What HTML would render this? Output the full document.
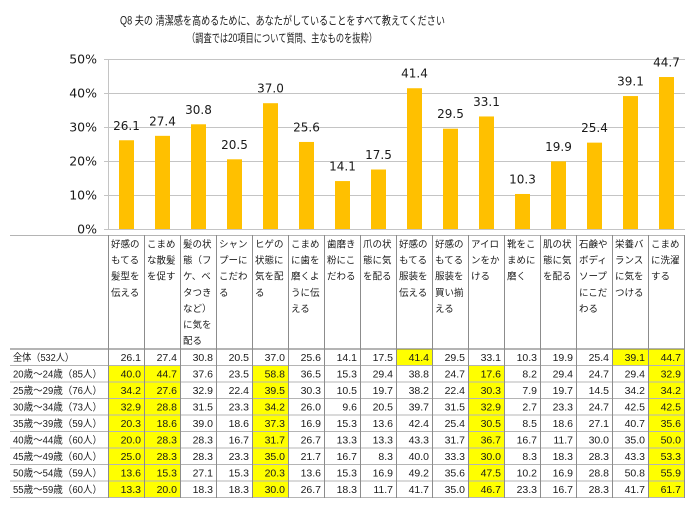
<!DOCTYPE html>
<html><head><meta charset="utf-8">
<style>
html,body{margin:0;padding:0;background:#fff;width:700px;height:508px;overflow:hidden}
svg{display:block}
.jp{font-family:"Liberation Sans","Noto Sans CJK JP",sans-serif;fill:#1a1a1a}
.num{font-family:"Liberation Sans",sans-serif;font-size:10.5px;fill:#1a1a1a}
.bl{font-family:"DejaVu Sans",sans-serif;font-size:12px;fill:#1a1a1a}
.ax{font-family:"DejaVu Sans",sans-serif;font-size:12.5px;fill:#1a1a1a}
</style></head>
<body>
<svg width="700" height="508" viewBox="0 0 700 508" xmlns="http://www.w3.org/2000/svg">
<rect width="700" height="508" fill="#fff"/>
<!-- titles -->
<text class="jp" x="120" y="24.5" font-size="11.5" textLength="325" lengthAdjust="spacingAndGlyphs">Q8 夫の 清潔感を高めるために、あなたがしていることをすべて教えてください</text>
<text class="jp" x="187" y="42" font-size="11.5" textLength="190" lengthAdjust="spacingAndGlyphs">（調査では20項目について質問、主なものを抜粋）</text>

<!-- gridlines -->
<g stroke="#c4c4c4" stroke-width="1">
<line x1="104" y1="59.5" x2="685" y2="59.5"/>
<line x1="104" y1="93.5" x2="685" y2="93.5"/>
<line x1="104" y1="127.5" x2="685" y2="127.5"/>
<line x1="104" y1="161.5" x2="685" y2="161.5"/>
<line x1="104" y1="195.5" x2="685" y2="195.5"/>
<line x1="104" y1="229.5" x2="685" y2="229.5"/>
<line x1="108.5" y1="59" x2="108.5" y2="230"/>
</g>
<!-- axis labels -->
<g class="ax" text-anchor="end">
<text x="97" y="63.5">50%</text>
<text x="97" y="97.5">40%</text>
<text x="97" y="131.5">30%</text>
<text x="97" y="165.5">20%</text>
<text x="97" y="199.5">10%</text>
<text x="97" y="233.5">0%</text>
</g>
<!-- bars -->
<g fill="#FFC000">
<rect x="119" y="140.26" width="15" height="88.74"/>
<rect x="155" y="135.84" width="15" height="93.16"/>
<rect x="191" y="124.28" width="15" height="104.72"/>
<rect x="227" y="159.3" width="15" height="69.7"/>
<rect x="263" y="103.2" width="15" height="125.8"/>
<rect x="299" y="141.96" width="15" height="87.04"/>
<rect x="335" y="181.06" width="15" height="47.94"/>
<rect x="371" y="169.5" width="15" height="59.5"/>
<rect x="407" y="88.24" width="15" height="140.76"/>
<rect x="443" y="128.7" width="15" height="100.3"/>
<rect x="479" y="116.46" width="15" height="112.54"/>
<rect x="515" y="193.98" width="15" height="35.02"/>
<rect x="551" y="161.34" width="15" height="67.66"/>
<rect x="587" y="142.64" width="15" height="86.36"/>
<rect x="623" y="96.06" width="15" height="132.94"/>
<rect x="659" y="77.02" width="15" height="151.98"/>
</g>
<g class="bl" text-anchor="middle">
<text x="126.5" y="129.8">26.1</text>
<text x="162.5" y="125.3">27.4</text>
<text x="198.5" y="113.8">30.8</text>
<text x="234.5" y="148.8">20.5</text>
<text x="270.5" y="92.7">37.0</text>
<text x="306.5" y="131.5">25.6</text>
<text x="342.5" y="170.6">14.1</text>
<text x="378.5" y="159.0">17.5</text>
<text x="414.5" y="77.7">41.4</text>
<text x="450.5" y="118.2">29.5</text>
<text x="486.5" y="106.0">33.1</text>
<text x="522.5" y="183.5">10.3</text>
<text x="558.5" y="150.8">19.9</text>
<text x="594.5" y="132.1">25.4</text>
<text x="630.5" y="85.6">39.1</text>
<text x="666.5" y="66.5">44.7</text>
</g>

<!-- table yellow cells -->
<g fill="#FFFF00">
<rect x="396" y="349" width="36" height="16.5"/>
<rect x="612" y="349" width="36" height="16.5"/>
<rect x="648" y="349" width="36" height="148.5"/>
<rect x="108" y="365.5" width="36" height="132"/>
<rect x="144" y="365.5" width="36" height="132"/>
<rect x="252" y="365.5" width="36" height="132"/>
<rect x="468" y="365.5" width="36" height="132"/>
</g>

<!-- table horizontal lines -->
<g stroke="#b4b4b4" stroke-width="1">
<line x1="10" y1="235.5" x2="685" y2="235.5"/>
<line x1="10" y1="365.5" x2="685" y2="365.5"/>
<line x1="10" y1="382" x2="685" y2="382"/>
<line x1="10" y1="398.5" x2="685" y2="398.5"/>
<line x1="10" y1="415" x2="685" y2="415"/>
<line x1="10" y1="431.5" x2="685" y2="431.5"/>
<line x1="10" y1="448" x2="685" y2="448"/>
<line x1="10" y1="464.5" x2="685" y2="464.5"/>
<line x1="10" y1="481" x2="685" y2="481"/>
<line x1="10" y1="497.5" x2="685" y2="497.5"/>
</g>
<line x1="10" y1="349" x2="685" y2="349" stroke="#6a6a6a" stroke-width="1"/>
<!-- table vertical lines -->
<g stroke="#8c8c8c" stroke-width="1">
<line x1="108.5" y1="235" x2="108.5" y2="498"/>
<line x1="144.5" y1="235" x2="144.5" y2="498"/>
<line x1="180.5" y1="235" x2="180.5" y2="498"/>
<line x1="216.5" y1="235" x2="216.5" y2="498"/>
<line x1="252.5" y1="235" x2="252.5" y2="498"/>
<line x1="288.5" y1="235" x2="288.5" y2="498"/>
<line x1="324.5" y1="235" x2="324.5" y2="498"/>
<line x1="360.5" y1="235" x2="360.5" y2="498"/>
<line x1="396.5" y1="235" x2="396.5" y2="498"/>
<line x1="432.5" y1="235" x2="432.5" y2="498"/>
<line x1="468.5" y1="235" x2="468.5" y2="498"/>
<line x1="504.5" y1="235" x2="504.5" y2="498"/>
<line x1="540.5" y1="235" x2="540.5" y2="498"/>
<line x1="576.5" y1="235" x2="576.5" y2="498"/>
<line x1="612.5" y1="235" x2="612.5" y2="498"/>
<line x1="648.5" y1="235" x2="648.5" y2="498"/>
<line x1="684.5" y1="235" x2="684.5" y2="498"/>
</g>

<!-- header texts -->
<g class="jp" font-size="9.5">
<text y="247.5"><tspan x="111">好感の</tspan><tspan x="111" dy="16.1">もてる</tspan><tspan x="111" dy="16.1">髪型を</tspan><tspan x="111" dy="16.1">伝える</tspan></text>
<text y="247.5"><tspan x="147">こまめ</tspan><tspan x="147" dy="16.1">な散髪</tspan><tspan x="147" dy="16.1">を促す</tspan></text>
<text y="247.5"><tspan x="183">髪の状</tspan><tspan x="183" dy="16.1">態（フ</tspan><tspan x="183" dy="16.1">ケ、ベ</tspan><tspan x="183" dy="16.1">タつき</tspan><tspan x="183" dy="16.1">など）</tspan><tspan x="183" dy="16.1">に気を</tspan><tspan x="183" dy="16.1">配る</tspan></text>
<text y="247.5"><tspan x="219">シャン</tspan><tspan x="219" dy="16.1">プーに</tspan><tspan x="219" dy="16.1">こだわ</tspan><tspan x="219" dy="16.1">る</tspan></text>
<text y="247.5"><tspan x="255">ヒゲの</tspan><tspan x="255" dy="16.1">状態に</tspan><tspan x="255" dy="16.1">気を配</tspan><tspan x="255" dy="16.1">る</tspan></text>
<text y="247.5"><tspan x="291">こまめ</tspan><tspan x="291" dy="16.1">に歯を</tspan><tspan x="291" dy="16.1">磨くよ</tspan><tspan x="291" dy="16.1">うに伝</tspan><tspan x="291" dy="16.1">える</tspan></text>
<text y="247.5"><tspan x="327">歯磨き</tspan><tspan x="327" dy="16.1">粉にこ</tspan><tspan x="327" dy="16.1">だわる</tspan></text>
<text y="247.5"><tspan x="363">爪の状</tspan><tspan x="363" dy="16.1">態に気</tspan><tspan x="363" dy="16.1">を配る</tspan></text>
<text y="247.5"><tspan x="399">好感の</tspan><tspan x="399" dy="16.1">もてる</tspan><tspan x="399" dy="16.1">服装を</tspan><tspan x="399" dy="16.1">伝える</tspan></text>
<text y="247.5"><tspan x="435">好感の</tspan><tspan x="435" dy="16.1">もてる</tspan><tspan x="435" dy="16.1">服装を</tspan><tspan x="435" dy="16.1">買い揃</tspan><tspan x="435" dy="16.1">える</tspan></text>
<text y="247.5"><tspan x="471">アイロ</tspan><tspan x="471" dy="16.1">ンをか</tspan><tspan x="471" dy="16.1">ける</tspan></text>
<text y="247.5"><tspan x="507">靴をこ</tspan><tspan x="507" dy="16.1">まめに</tspan><tspan x="507" dy="16.1">磨く</tspan></text>
<text y="247.5"><tspan x="543">肌の状</tspan><tspan x="543" dy="16.1">態に気</tspan><tspan x="543" dy="16.1">を配る</tspan></text>
<text y="247.5"><tspan x="579">石鹸や</tspan><tspan x="579" dy="16.1">ボディ</tspan><tspan x="579" dy="16.1">ソープ</tspan><tspan x="579" dy="16.1">にこだ</tspan><tspan x="579" dy="16.1">わる</tspan></text>
<text y="247.5"><tspan x="615">栄養バ</tspan><tspan x="615" dy="16.1">ランス</tspan><tspan x="615" dy="16.1">に気を</tspan><tspan x="615" dy="16.1">つける</tspan></text>
<text y="247.5"><tspan x="651">こまめ</tspan><tspan x="651" dy="16.1">に洗濯</tspan><tspan x="651" dy="16.1">する</tspan></text>
</g>

<!-- row labels -->
<g class="jp" font-size="10">
<text x="13" y="361" textLength="61" lengthAdjust="spacingAndGlyphs">全体（532人）</text>
<text x="13" y="377.5" textLength="89" lengthAdjust="spacingAndGlyphs">20歳～24歳（85人）</text>
<text x="13" y="394" textLength="89" lengthAdjust="spacingAndGlyphs">25歳～29歳（76人）</text>
<text x="13" y="410.5" textLength="89" lengthAdjust="spacingAndGlyphs">30歳～34歳（73人）</text>
<text x="13" y="427" textLength="89" lengthAdjust="spacingAndGlyphs">35歳～39歳（59人）</text>
<text x="13" y="443.5" textLength="89" lengthAdjust="spacingAndGlyphs">40歳～44歳（60人）</text>
<text x="13" y="460" textLength="89" lengthAdjust="spacingAndGlyphs">45歳～49歳（60人）</text>
<text x="13" y="476.5" textLength="89" lengthAdjust="spacingAndGlyphs">50歳～54歳（59人）</text>
<text x="13" y="493" textLength="89" lengthAdjust="spacingAndGlyphs">55歳～59歳（60人）</text>
</g>

<!-- numbers -->
<g class="num" text-anchor="end">
<text y="361"><tspan x="141">26.1</tspan><tspan x="177">27.4</tspan><tspan x="213">30.8</tspan><tspan x="249">20.5</tspan><tspan x="285">37.0</tspan><tspan x="321">25.6</tspan><tspan x="357">14.1</tspan><tspan x="393">17.5</tspan><tspan x="429">41.4</tspan><tspan x="465">29.5</tspan><tspan x="501">33.1</tspan><tspan x="537">10.3</tspan><tspan x="573">19.9</tspan><tspan x="609">25.4</tspan><tspan x="645">39.1</tspan><tspan x="681">44.7</tspan></text>
<text y="377.5"><tspan x="141">40.0</tspan><tspan x="177">44.7</tspan><tspan x="213">37.6</tspan><tspan x="249">23.5</tspan><tspan x="285">58.8</tspan><tspan x="321">36.5</tspan><tspan x="357">15.3</tspan><tspan x="393">29.4</tspan><tspan x="429">38.8</tspan><tspan x="465">24.7</tspan><tspan x="501">17.6</tspan><tspan x="537">8.2</tspan><tspan x="573">29.4</tspan><tspan x="609">24.7</tspan><tspan x="645">29.4</tspan><tspan x="681">32.9</tspan></text>
<text y="394"><tspan x="141">34.2</tspan><tspan x="177">27.6</tspan><tspan x="213">32.9</tspan><tspan x="249">22.4</tspan><tspan x="285">39.5</tspan><tspan x="321">30.3</tspan><tspan x="357">10.5</tspan><tspan x="393">19.7</tspan><tspan x="429">38.2</tspan><tspan x="465">22.4</tspan><tspan x="501">30.3</tspan><tspan x="537">7.9</tspan><tspan x="573">19.7</tspan><tspan x="609">14.5</tspan><tspan x="645">34.2</tspan><tspan x="681">34.2</tspan></text>
<text y="410.5"><tspan x="141">32.9</tspan><tspan x="177">28.8</tspan><tspan x="213">31.5</tspan><tspan x="249">23.3</tspan><tspan x="285">34.2</tspan><tspan x="321">26.0</tspan><tspan x="357">9.6</tspan><tspan x="393">20.5</tspan><tspan x="429">39.7</tspan><tspan x="465">31.5</tspan><tspan x="501">32.9</tspan><tspan x="537">2.7</tspan><tspan x="573">23.3</tspan><tspan x="609">24.7</tspan><tspan x="645">42.5</tspan><tspan x="681">42.5</tspan></text>
<text y="427"><tspan x="141">20.3</tspan><tspan x="177">18.6</tspan><tspan x="213">39.0</tspan><tspan x="249">18.6</tspan><tspan x="285">37.3</tspan><tspan x="321">16.9</tspan><tspan x="357">15.3</tspan><tspan x="393">13.6</tspan><tspan x="429">42.4</tspan><tspan x="465">25.4</tspan><tspan x="501">30.5</tspan><tspan x="537">8.5</tspan><tspan x="573">18.6</tspan><tspan x="609">27.1</tspan><tspan x="645">40.7</tspan><tspan x="681">35.6</tspan></text>
<text y="443.5"><tspan x="141">20.0</tspan><tspan x="177">28.3</tspan><tspan x="213">28.3</tspan><tspan x="249">16.7</tspan><tspan x="285">31.7</tspan><tspan x="321">26.7</tspan><tspan x="357">13.3</tspan><tspan x="393">13.3</tspan><tspan x="429">43.3</tspan><tspan x="465">31.7</tspan><tspan x="501">36.7</tspan><tspan x="537">16.7</tspan><tspan x="573">11.7</tspan><tspan x="609">30.0</tspan><tspan x="645">35.0</tspan><tspan x="681">50.0</tspan></text>
<text y="460"><tspan x="141">25.0</tspan><tspan x="177">28.3</tspan><tspan x="213">28.3</tspan><tspan x="249">23.3</tspan><tspan x="285">35.0</tspan><tspan x="321">21.7</tspan><tspan x="357">16.7</tspan><tspan x="393">8.3</tspan><tspan x="429">40.0</tspan><tspan x="465">33.3</tspan><tspan x="501">30.0</tspan><tspan x="537">8.3</tspan><tspan x="573">18.3</tspan><tspan x="609">28.3</tspan><tspan x="645">43.3</tspan><tspan x="681">53.3</tspan></text>
<text y="476.5"><tspan x="141">13.6</tspan><tspan x="177">15.3</tspan><tspan x="213">27.1</tspan><tspan x="249">15.3</tspan><tspan x="285">20.3</tspan><tspan x="321">13.6</tspan><tspan x="357">15.3</tspan><tspan x="393">16.9</tspan><tspan x="429">49.2</tspan><tspan x="465">35.6</tspan><tspan x="501">47.5</tspan><tspan x="537">10.2</tspan><tspan x="573">16.9</tspan><tspan x="609">28.8</tspan><tspan x="645">50.8</tspan><tspan x="681">55.9</tspan></text>
<text y="493"><tspan x="141">13.3</tspan><tspan x="177">20.0</tspan><tspan x="213">18.3</tspan><tspan x="249">18.3</tspan><tspan x="285">30.0</tspan><tspan x="321">26.7</tspan><tspan x="357">18.3</tspan><tspan x="393">11.7</tspan><tspan x="429">41.7</tspan><tspan x="465">35.0</tspan><tspan x="501">46.7</tspan><tspan x="537">23.3</tspan><tspan x="573">16.7</tspan><tspan x="609">28.3</tspan><tspan x="645">41.7</tspan><tspan x="681">61.7</tspan></text>
</g>
</svg>
</body></html>
